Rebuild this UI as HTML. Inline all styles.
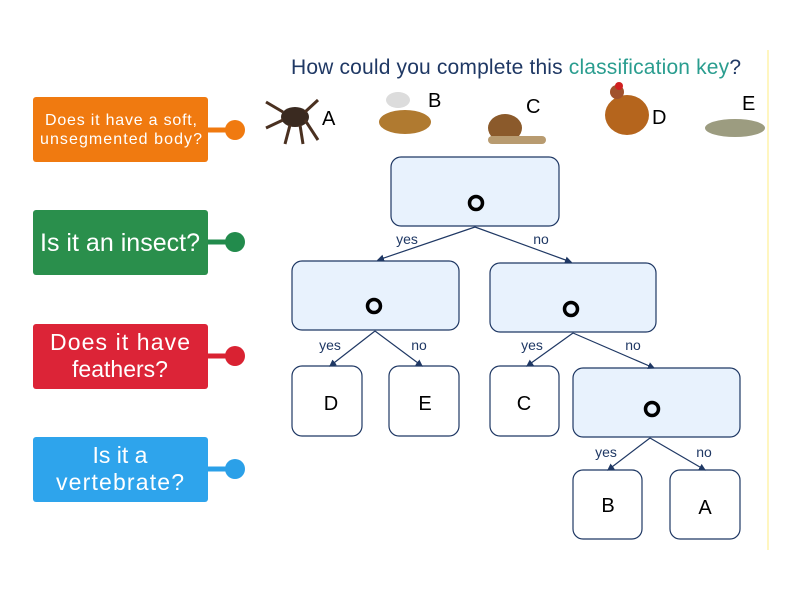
<!DOCTYPE html>
<html><head><style>
body{margin:0;width:800px;height:600px;background:#fff;overflow:hidden;font-family:"Liberation Sans","DejaVu Sans",sans-serif}
</style></head><body>
<svg width="800" height="600" xmlns="http://www.w3.org/2000/svg" font-family="Liberation Sans, DejaVu Sans, sans-serif">
<defs><marker id="ah" markerWidth="6" markerHeight="6" refX="5" refY="3" orient="auto"><path d="M0,0 L6,3 L0,6 z" fill="#1f3864"/></marker></defs>
<line x1="768" y1="50" x2="768" y2="550" stroke="#fff6c0" stroke-width="2"/>
<text x="516" y="74" font-size="21" text-anchor="middle" fill="#1f3864" textLength="450">How could you complete this <tspan fill="#2a9d8f">classification key</tspan>?</text>
<g>
<ellipse cx="295" cy="117" rx="14" ry="10" fill="#3a2a20"/><g stroke="#4a3020" stroke-width="3"><line x1="283" y1="112" x2="266" y2="102"/><line x1="283" y1="120" x2="266" y2="128"/><line x1="305" y1="112" x2="318" y2="100"/><line x1="305" y1="120" x2="318" y2="140"/><line x1="290" y1="125" x2="285" y2="144"/><line x1="300" y1="125" x2="303" y2="144"/></g>
<text x="322" y="125" font-size="20" fill="#000">A</text>
<ellipse cx="405" cy="122" rx="26" ry="12" fill="#b07a30"/><ellipse cx="398" cy="100" rx="12" ry="8" fill="#dcdcdc"/>
<text x="428" y="107" font-size="20" fill="#000">B</text>
<ellipse cx="505" cy="128" rx="17" ry="14" fill="#8b5a2b"/><rect x="488" y="136" width="58" height="8" rx="4" fill="#b89b70"/>
<text x="526" y="113" font-size="20" fill="#000">C</text>
<ellipse cx="627" cy="115" rx="22" ry="20" fill="#b5651d"/><circle cx="617" cy="92" r="7" fill="#a0522d"/><circle cx="619" cy="86" r="4" fill="#d02020"/>
<text x="652" y="124" font-size="20" fill="#000">D</text>
<ellipse cx="735" cy="128" rx="30" ry="9" fill="#9c9c80"/>
<text x="742" y="110" font-size="20" fill="#000">E</text>
</g>
<g stroke="#1f3864" stroke-width="1.2" fill="#e8f2fd">
<rect x="391" y="157" width="168" height="69" rx="10"/>
<rect x="292" y="261" width="167" height="69" rx="10"/>
<rect x="490" y="263" width="166" height="69" rx="10"/>
<rect x="573" y="368" width="167" height="69" rx="10"/>
</g>
<g stroke="#1f3864" stroke-width="1.2" fill="#fff">
<rect x="292" y="366" width="70" height="70" rx="10"/>
<rect x="389" y="366" width="70" height="70" rx="10"/>
<rect x="490" y="366" width="69" height="70" rx="10"/>
<rect x="573" y="470" width="69" height="69" rx="10"/>
<rect x="670" y="470" width="70" height="69" rx="10"/>
</g>
<g fill="none" stroke="#000" stroke-width="3.5">
<circle cx="476" cy="203" r="6.5"/><circle cx="374" cy="306" r="6.5"/><circle cx="571" cy="309" r="6.5"/><circle cx="652" cy="409" r="6.5"/>
</g>
<g font-size="20" fill="#000" text-anchor="middle">
<text x="331" y="410">D</text><text x="425" y="410">E</text><text x="524" y="410">C</text><text x="608" y="512">B</text><text x="705" y="514">A</text>
</g>
<g stroke="#1f3864" stroke-width="1.2" marker-end="url(#ah)">
<line x1="475" y1="227" x2="378" y2="260"/><line x1="475" y1="227" x2="571" y2="262"/>
<line x1="375" y1="331" x2="330" y2="366"/><line x1="375" y1="331" x2="422" y2="366"/>
<line x1="573" y1="333" x2="527" y2="366"/><line x1="573" y1="333" x2="654" y2="368"/>
<line x1="650" y1="438" x2="608" y2="470"/><line x1="650" y1="438" x2="705" y2="470"/>
</g>
<g font-size="14" fill="#1f3864" text-anchor="middle">
<text x="407" y="244">yes</text><text x="541" y="244">no</text>
<text x="330" y="350">yes</text><text x="419" y="350">no</text>
<text x="532" y="350">yes</text><text x="633" y="350">no</text>
<text x="606" y="457">yes</text><text x="704" y="457">no</text>
</g>
<g>
<line x1="206" y1="130" x2="232" y2="130" stroke="#f07a10" stroke-width="5"/><circle cx="235" cy="130" r="10" fill="#f07a10"/>
<rect x="33" y="97" width="175" height="65" rx="3" fill="#f07a10"/>
<text x="121" y="125" font-size="16" fill="#fff" text-anchor="middle" textLength="152">Does it have a soft,</text>
<text x="121" y="144" font-size="16" fill="#fff" text-anchor="middle" textLength="162">unsegmented body?</text>
<line x1="206" y1="242" x2="232" y2="242" stroke="#228b4c" stroke-width="5"/><circle cx="235" cy="242" r="10" fill="#228b4c"/>
<rect x="33" y="210" width="175" height="65" rx="3" fill="#2a8f4c"/>
<text x="120" y="251" font-size="25" fill="#fff" text-anchor="middle" textLength="160">Is it an insect?</text>
<line x1="206" y1="356" x2="232" y2="356" stroke="#d92232" stroke-width="5"/><circle cx="235" cy="356" r="10" fill="#d92232"/>
<rect x="33" y="324" width="175" height="65" rx="3" fill="#dc2437"/>
<text x="120" y="350" font-size="23" fill="#fff" text-anchor="middle" textLength="140">Does it have</text>
<text x="120" y="377" font-size="23" fill="#fff" text-anchor="middle">feathers?</text>
<line x1="206" y1="469" x2="232" y2="469" stroke="#2ba0e8" stroke-width="5"/><circle cx="235" cy="469" r="10" fill="#2ba0e8"/>
<rect x="33" y="437" width="175" height="65" rx="3" fill="#2ea4ec"/>
<text x="120" y="463" font-size="23" fill="#fff" text-anchor="middle">Is it a</text>
<text x="120" y="490" font-size="23" fill="#fff" text-anchor="middle" textLength="128">vertebrate?</text>
</g>
</svg>
</body></html>
